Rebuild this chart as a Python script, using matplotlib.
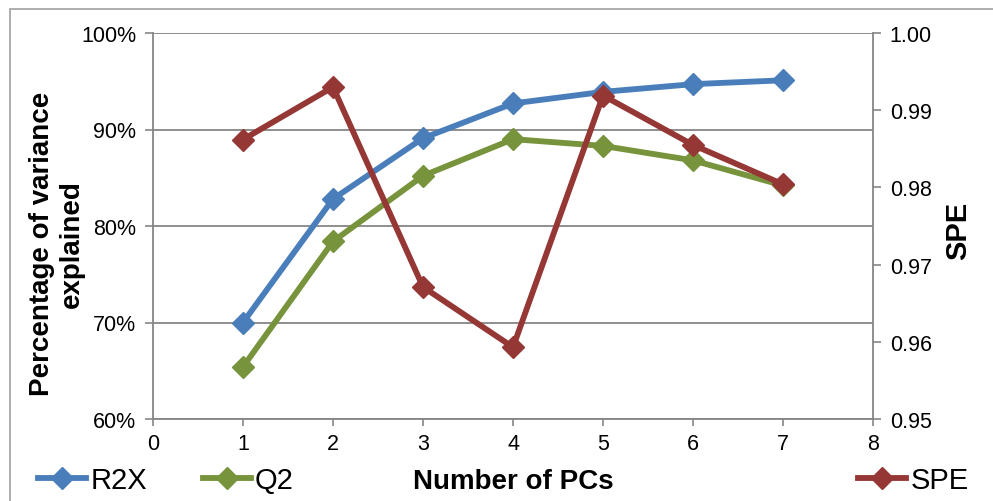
import matplotlib
matplotlib.use("Agg")
import matplotlib.pyplot as plt
from matplotlib.lines import Line2D
from matplotlib.patches import Rectangle
from matplotlib.ticker import FuncFormatter

plt.rcParams['font.family'] = ['Liberation Sans', 'DejaVu Sans']

# data
pcs = [1, 2, 3, 4, 5, 6, 7]
r2x = [70.0, 82.8, 89.1, 92.7, 93.9, 94.7, 95.1]
q2 = [65.4, 78.4, 85.2, 89.0, 88.3, 86.8, 84.2]
spe = [0.9862, 0.9930, 0.9671, 0.9593, 0.9919, 0.9855, 0.9804]

blue = '#4A7EBB'
green = '#77933C'
red = '#953735'
grey = '#868686'

fig = plt.figure(figsize=(9.93, 5.02), dpi=100)
ax = fig.add_axes([153/993, 1 - 420/502, 720/993, 386/502])
ax2 = ax.twinx()

# outer chart frame
fig.patches.append(Rectangle((10/993, -0.1), 1.2, 1 - 10/502 + 0.1,
                             transform=fig.transFigure, fill=False,
                             edgecolor='#a0a0a0', linewidth=1.2))

lw = 4.2
ms = 11
ax.plot(pcs, r2x, color=blue, lw=lw, marker='D', ms=ms, label='R2X', zorder=3)
ax.plot(pcs, q2, color=green, lw=lw, marker='D', ms=ms, label='Q2', zorder=3)
ax2.plot(pcs, spe, color=red, lw=lw, marker='D', ms=ms, label='SPE', zorder=3)

ax.set_xlim(0, 8)
ax.set_ylim(60, 100)
ax2.set_ylim(0.95, 1.00)
ax.set_xticks(range(9))
ax.set_yticks([60, 70, 80, 90, 100])
ax2.set_yticks([0.95, 0.96, 0.97, 0.98, 0.99, 1.00])
ax.yaxis.set_major_formatter(FuncFormatter(lambda v, p: f'{v:.0f}%'))
ax2.yaxis.set_major_formatter(FuncFormatter(lambda v, p: f'{v:.2f}'))

ax.grid(axis='y', color=grey, linewidth=1.3)
ax.set_axisbelow(True)

for a in (ax, ax2):
    for s in a.spines.values():
        s.set_visible(False)
    a.tick_params(colors=grey, labelcolor='black', labelsize=15.5,
                  width=1.2, length=6)
ax.spines['left'].set_visible(True)
ax.spines['left'].set_color(grey)
ax.spines['left'].set_linewidth(1.3)
ax.spines['bottom'].set_visible(True)
ax.spines['bottom'].set_color(grey)
ax.spines['bottom'].set_linewidth(1.3)
ax2.spines['right'].set_visible(True)
ax2.spines['right'].set_color(grey)
ax2.spines['right'].set_linewidth(1.3)
ax.tick_params(axis='x', length=5, pad=5)
ax.tick_params(axis='y', pad=6)
ax2.tick_params(axis='y', pad=6)

fig.text(57/993, 1 - 244/502, 'Percentage of variance\nexplained',
         fontsize=20, fontweight='bold', rotation=90, ha='center',
         va='center', multialignment='center', linespacing=1.15)
fig.text(958/993, 1 - 231/502, 'SPE', fontsize=21, fontweight='bold',
         rotation=90, ha='center', va='center')
fig.text(513/993, 1 - 482/502, 'Number of PCs', fontsize=20,
         fontweight='bold', ha='center', va='center')

def handle(c):
    return Line2D([], [], color=c, lw=lw, marker='D', ms=ms)

leg1 = fig.legend([handle(blue), handle(green)], ['R2X', 'Q2'],
                  loc='center left', bbox_to_anchor=(38/993, 1 - 481/502),
                  ncol=2, frameon=False, fontsize=21, handlelength=1.65,
                  handletextpad=0.15, columnspacing=1.9, borderaxespad=0,
                  borderpad=0)
leg2 = fig.legend([handle(red)], ['SPE'],
                  loc='center left', bbox_to_anchor=(858/993, 1 - 481/502),
                  frameon=False, fontsize=21, handlelength=1.65,
                  handletextpad=0.15, borderaxespad=0, borderpad=0)

fig.savefig('out.png', dpi=100)
